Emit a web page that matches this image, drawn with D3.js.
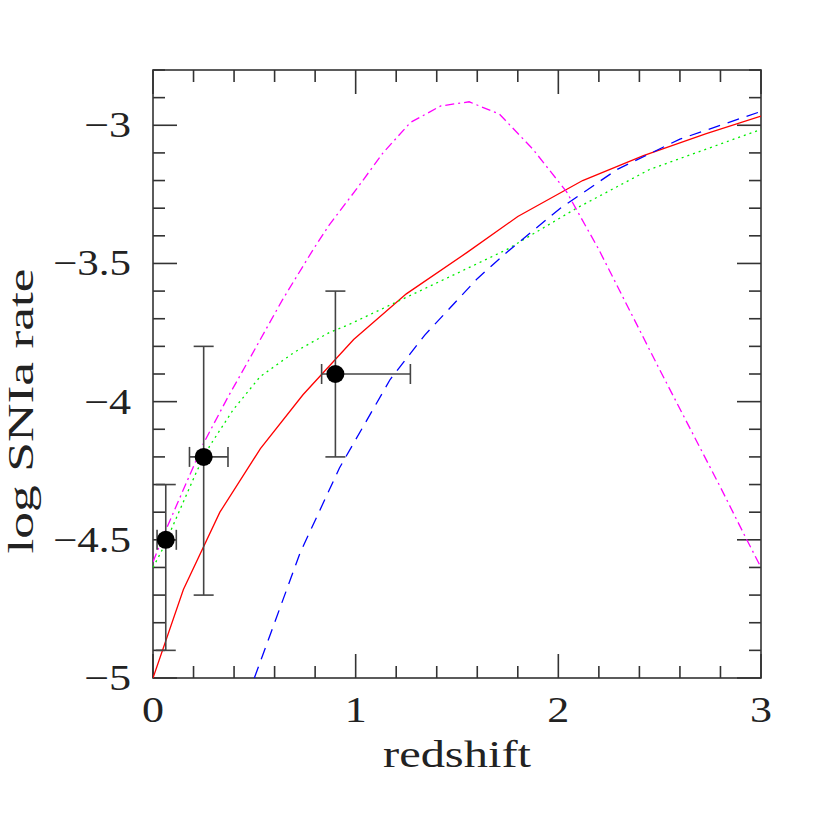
<!DOCTYPE html>
<html><head><meta charset="utf-8">
<script src="https://cdn.jsdelivr.net/npm/d3@7"></script>
<style>body{margin:0;background:#fff}</style>
</head><body>
<svg id="c" width="830" height="830"></svg>
<script>
// data
const redZ = [0, 0.15, 0.33, 0.53, 0.74, 0.99, 1.25, 1.55, 1.8, 2.12, 2.42, 2.73, 3.0];
const redY = [-5, -4.68, -4.40, -4.17, -3.975, -3.775, -3.61, -3.46, -3.33, -3.20, -3.11, -3.03, -2.967];
const greenZ = [0, 0.05, 0.217, 0.28, 0.395, 0.528, 0.7, 0.87, 0.97, 1.2, 1.43, 1.745, 2.09, 2.45, 3.0];
const greenY = [-4.6, -4.53, -4.25, -4.16, -4.03, -3.91, -3.82, -3.75, -3.72, -3.64, -3.56, -3.45, -3.30, -3.16, -3.015];
const blueZ = [0.5, 0.726, 0.92, 1.17, 1.34, 1.6, 1.745, 2.01, 2.29, 2.6, 3.0];
const blueY = [-5.0, -4.547, -4.24, -3.92, -3.76, -3.555, -3.46, -3.30, -3.16, -3.05, -2.95];
const magZ = [0, 0.06, 0.25, 0.365, 0.48, 0.64, 0.79, 0.87, 1.0, 1.135, 1.27, 1.42, 1.56, 1.71, 1.875, 2.04, 2.2, 2.49, 2.8, 2.93, 3.0];
const magY = [-4.58, -4.47, -4.15, -3.99, -3.84, -3.63, -3.45, -3.36, -3.235, -3.10, -2.99, -2.93, -2.915, -2.96, -3.087, -3.24, -3.45, -3.87, -4.31, -4.5, -4.6];
const obsZ = [0.063, 0.25, 0.90];
const obsY = [-4.5, -4.2, -3.9];
const obsZlo = [0.02, 0.18, 0.832];
const obsZhi = [0.115, 0.37, 1.27];
const obsYlo = [-4.9, -4.7, -4.2];
const obsYhi = [-4.3, -3.8, -3.6];
const xTicks = [0, 1, 2, 3];
const yTicks = [-5, -4.5, -4, -3.5, -3];
const xLabel = "redshift";
const yLabel = "log SNIa rate";

const svg = d3.select("#c");
const L = 153, R = 761, T = 70, B = 678;
const x = d3.scaleLinear().domain([0, 3]).range([L, R]);
const y = d3.scaleLinear().domain([-5, -2.8]).range([B, T]);
const ink = "#222";

// frame
svg.append("rect").attr("x", L).attr("y", T).attr("width", R - L).attr("height", B - T)
  .attr("fill", "none").attr("stroke", "#333").attr("stroke-width", 1.6);

// ticks
const g = svg.append("g").attr("stroke", "#333").attr("stroke-width", 1.6);
const xMinor = d3.range(0, 3.0001, 0.2);
xMinor.forEach(v => {
  const major = Math.abs(v - Math.round(v)) < 1e-6;
  const len = major ? 24 : 12;
  g.append("line").attr("x1", x(v)).attr("x2", x(v)).attr("y1", B).attr("y2", B - len);
  g.append("line").attr("x1", x(v)).attr("x2", x(v)).attr("y1", T).attr("y2", T + len);
});
const yMinor = d3.range(-5, -2.79, 0.1);
yMinor.forEach(v => {
  const major = Math.abs(v * 2 - Math.round(v * 2)) < 1e-6;
  const len = major ? 24 : 12;
  g.append("line").attr("y1", y(v)).attr("y2", y(v)).attr("x1", L).attr("x2", L + len);
  g.append("line").attr("y1", y(v)).attr("y2", y(v)).attr("x1", R).attr("x2", R - len);
});

// tick labels
const font = "'Liberation Serif', 'DejaVu Serif', serif";
svg.append("g").selectAll("text").data(xTicks).join("text")
  .attr("x", d => x(d) - 11).attr("y", 722)
  .attr("font-family", font).attr("font-size", 36).attr("fill", ink)
  .attr("textLength", 22).attr("lengthAdjust", "spacingAndGlyphs")
  .text(d => d3.format("d")(d));
const ylen = d => (Number.isInteger(d) ? 47 : 78);
svg.append("g").selectAll("text").data(yTicks).join("text")
  .attr("x", d => 131 - ylen(d)).attr("y", d => y(d) + 12)
  .attr("font-family", font).attr("font-size", 36).attr("fill", ink)
  .attr("textLength", ylen).attr("lengthAdjust", "spacingAndGlyphs")
  .text(d => "\u2212" + String(Math.abs(d)));

// axis titles
svg.append("text").attr("x", 457).attr("y", 767).attr("text-anchor", "middle")
  .attr("font-family", font).attr("font-size", 38).attr("fill", ink)
  .attr("textLength", 148).attr("lengthAdjust", "spacingAndGlyphs").text(xLabel);
svg.append("text").attr("transform", "translate(33,411) rotate(-90)").attr("text-anchor", "middle")
  .attr("font-family", font).attr("font-size", 36).attr("fill", ink)
  .attr("textLength", 285).attr("lengthAdjust", "spacingAndGlyphs").text(yLabel);

// clip
svg.append("clipPath").attr("id", "clip").append("rect")
  .attr("x", L).attr("y", T).attr("width", R - L).attr("height", B - T);

const line = d3.line().x(d => x(d[0])).y(d => y(d[1]));
const curves = svg.append("g").attr("clip-path", "url(#clip)");
function draw(zs, ys, color, dash) {
  curves.append("path").attr("d", line(d3.zip(zs, ys)))
    .attr("fill", "none").attr("stroke", color).attr("stroke-width", 1.3)
    .attr("stroke-dasharray", dash);
}
draw(redZ, redY, "#ff0000", null);
draw(greenZ, greenY, "#00ee00", "2,4");
draw(blueZ, blueY, "#0000ff", "12,8");
draw(magZ, magY, "#ff00ff", "9,4,2,4");

// error bars
const eb = svg.append("g").attr("stroke", "#444").attr("stroke-width", 1.6);
const cap = 10;
obsZ.forEach((z, i) => {
  eb.append("line").attr("x1", x(z)).attr("x2", x(z)).attr("y1", y(obsYlo[i])).attr("y2", y(obsYhi[i]));
  eb.append("line").attr("x1", x(obsZlo[i])).attr("x2", x(obsZhi[i])).attr("y1", y(obsY[i])).attr("y2", y(obsY[i]));
  [obsYlo[i], obsYhi[i]].forEach(v => eb.append("line").attr("x1", x(z) - cap).attr("x2", x(z) + cap).attr("y1", y(v)).attr("y2", y(v)));
  [obsZlo[i], obsZhi[i]].forEach(v => eb.append("line").attr("x1", x(v)).attr("x2", x(v)).attr("y1", y(obsY[i]) - cap).attr("y2", y(obsY[i]) + cap));
});
svg.append("g").selectAll("circle").data(d3.zip(obsZ, obsY)).join("circle")
  .attr("cx", d => x(d[0])).attr("cy", d => y(d[1])).attr("r", 9).attr("fill", "#000");
</script>
</body></html>
